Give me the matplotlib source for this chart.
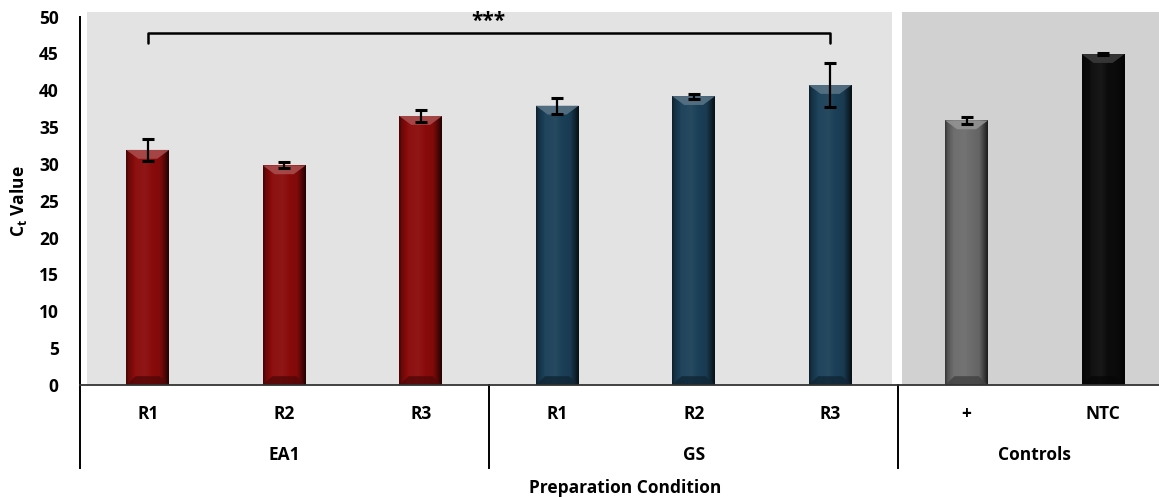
import numpy as np
import matplotlib
matplotlib.use("Agg")
import matplotlib.pyplot as plt
from matplotlib.patches import Rectangle, Polygon
from matplotlib import transforms
from matplotlib.colors import to_rgb

# ---- data -------------------------------------------------------------
groups = ["EA1", "GS", "Controls"]
group_sizes = [3, 3, 2]
categories = ["R1", "R2", "R3", "R1", "R2", "R3", "+", "NTC"]
ct_values = [31.9, 29.8, 36.5, 37.9, 39.2, 40.7, 35.9, 44.9]
ct_errors = [1.5, 0.4, 0.8, 1.1, 0.35, 3.0, 0.45, 0.1]
bar_colors = ["#8a0b0b", "#8a0b0b", "#8a0b0b",
              "#1b4058", "#1b4058", "#1b4058",
              "#6c6c6c", "#0c0c0c"]
sig_pair = (0, 5)
sig_label = "***"
y_ticks = list(range(0, 51, 5))

# ---- style ------------------------------------------------------------
FONT = "Open Sans"
plt.rcParams["font.family"] = [FONT, "DejaVu Sans"]
plt.rcParams["font.weight"] = "bold"
plt.rcParams["mathtext.fontset"] = "custom"
plt.rcParams["mathtext.rm"] = f"{FONT}:bold"
plt.rcParams["mathtext.bf"] = f"{FONT}:bold"
plt.rcParams["mathtext.it"] = f"{FONT}:bold"
FS = 12.5

W, H = 1159, 497
fig = plt.figure(figsize=(W / 100, H / 100), dpi=100)
ax_left, ax_right = 79.5 / W, 1.0
ax_bottom, ax_top = (H - 385) / H, (H - 16.5) / H
ax = fig.add_axes([ax_left, ax_bottom, ax_right - ax_left, ax_top - ax_bottom])

x = np.arange(len(categories))
ax.set_xlim(-0.5, 7.41)
ax.set_ylim(0, 50)

# panel backgrounds behind the sample groups and the controls
ax.add_patch(Rectangle((-0.445, 0), 5.453 + 0.445, 50.6, facecolor="#e3e3e3",
                       edgecolor="none", zorder=0, clip_on=False))
ax.add_patch(Rectangle((5.526, 0), 2.0, 50.6, facecolor="#d1d1d1",
                       edgecolor="none", zorder=0, clip_on=False))

bar_w = 0.315
bars = ax.bar(x, ct_values, width=bar_w, color=bar_colors, zorder=2,
              edgecolor="none")


def shade(c, f):
    r, g, b = to_rgb(c)
    if f >= 1:
        return tuple(min(1, v + (1 - v) * (f - 1)) for v in (r, g, b))
    return (r * f, g * f, b * f)


# bevelled look: horizontal shading plus light top / dark bottom facets
t = np.linspace(0, 1, 80)
profile = np.interp(t, [0, 0.06, 0.2, 0.45, 0.8, 0.93, 1.0],
                    [0.5, 0.78, 1.02, 1.05, 0.93, 0.5, 0.25])
bevel = 1.2
for rect, col in zip(bars, bar_colors):
    x0, w, h = rect.get_x(), rect.get_width(), rect.get_height()
    img = np.array([[shade(col, f) for f in profile]])
    im = ax.imshow(img, extent=(x0, x0 + w, 0, h), aspect="auto",
                   zorder=2.1, interpolation="bilinear")
    im.set_clip_path(rect)
    top = Polygon([(x0, h), (x0 + w, h), (x0 + 0.72 * w, h - bevel),
                   (x0 + 0.28 * w, h - bevel)], closed=True,
                  facecolor=shade(col, 1.28) if col != "#0c0c0c" else "#3c3c3c",
                  edgecolor="none", zorder=2.2, alpha=0.85)
    ax.add_patch(top)
    bot = Polygon([(x0, 0), (x0 + w, 0), (x0 + 0.78 * w, bevel),
                   (x0 + 0.22 * w, bevel)], closed=True,
                  facecolor=shade(col, 0.6), edgecolor="none", zorder=2.2,
                  alpha=0.8)
    ax.add_patch(bot)

ax.errorbar(x, ct_values, yerr=ct_errors, fmt="none", ecolor="black",
            elinewidth=1.6, capsize=4.5, capthick=2.2, zorder=5)

# significance bracket
x1, x2 = sig_pair
ax.plot([x1, x1, x2, x2], [46.4, 47.8, 47.8, 46.4], color="black", lw=1.8,
        solid_joinstyle="round", solid_capstyle="round", zorder=5,
        clip_on=False)
ax.text((x1 + x2) / 2, 49.3, sig_label, ha="center", va="center",
        fontsize=15, fontweight="bold")

# axes styling
for s in ("top", "right"):
    ax.spines[s].set_visible(False)
ax.spines["left"].set_linewidth(1.4)
ax.spines["left"].set_color("black")
ax.spines["bottom"].set_linewidth(1.3)
ax.spines["bottom"].set_color("#333333")
ax.set_yticks(y_ticks)
ax.tick_params(axis="y", length=0, pad=15, labelsize=FS)
ax.set_xticks([])
for lbl in ax.get_yticklabels():
    lbl.set_fontweight("bold")

ax.set_ylabel(r"C$_{\mathbf{t}}$ Value", fontsize=FS, fontweight="bold")
ax.yaxis.set_label_coords(-0.047, 0.5)

# two-level category axis
trans = transforms.blended_transform_factory(ax.transData, ax.transAxes)
for xi, lab in zip(x, categories):
    ax.text(xi, -0.078, lab, transform=trans, ha="center", va="center",
            fontsize=FS, fontweight="bold")
start = 0
bounds = [-0.5]
for g, n in zip(groups, group_sizes):
    ax.text(start + (n - 1) / 2, -0.19, g, transform=trans, ha="center",
            va="center", fontsize=FS, fontweight="bold")
    start += n
    bounds.append(start - 0.5)
for b in bounds[:-1]:
    ax.plot([b, b], [0, -0.225], transform=trans, color="black", lw=1.4,
            clip_on=False)

ax.text((len(categories) - 1) / 2, -0.28, "Preparation Condition",
        transform=trans, ha="center", va="center", fontsize=FS,
        fontweight="bold")

fig.savefig("out.png", dpi=100)
